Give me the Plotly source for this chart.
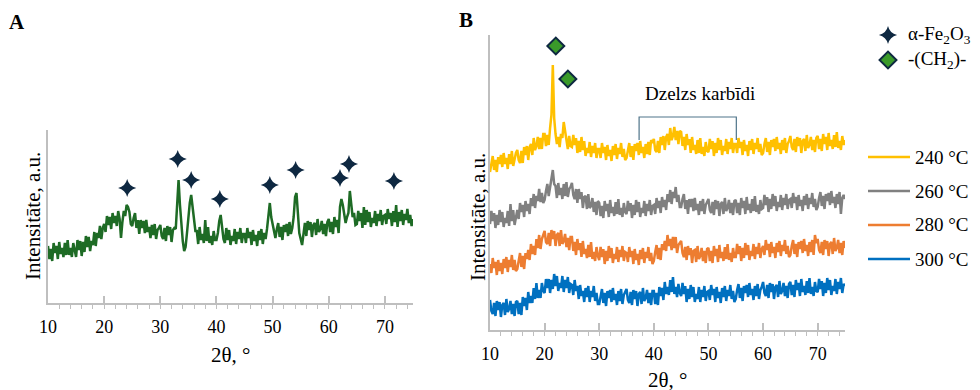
import numpy as np
import plotly.graph_objects as go

# ------------- data: intensity (arbitrary units), 2theta from 10 deg in 0.25 deg steps -------------
two_theta_start = 10.0
two_theta_step = 0.25

a_intensity = [
    57, 44, 54, 42, 60, 50, 57, 44, 61, 49, 55, 46, 60, 48, 63, 48, 55, 46, 60, 51,
    46, 63, 53, 62, 47, 61, 51, 67, 56, 66, 52, 62, 58, 71, 57, 70, 65, 77, 64, 75,
    79, 71, 87, 78, 86, 74, 90, 80, 87, 77, 92, 84, 65, 81, 92, 87, 98, 96, 91, 79,
    77, 85, 90, 75, 83, 69, 83, 75, 82, 70, 83, 71, 76, 65, 78, 68, 79, 64, 73, 75,
    78, 67, 64, 75, 62, 77, 68, 76, 61, 73, 75, 74, 100, 123, 98, 76, 62, 52, 56, 70,
    86, 100, 108, 95, 80, 72, 72, 59, 76, 63, 69, 60, 83, 62, 76, 60, 67, 58, 72, 63,
    63, 70, 82, 88, 76, 64, 60, 75, 63, 73, 58, 67, 62, 74, 59, 71, 64, 75, 60, 69,
    69, 60, 75, 65, 71, 58, 73, 62, 68, 57, 72, 63, 74, 59, 70, 64, 74, 90, 100, 86,
    78, 70, 65, 74, 80, 66, 76, 63, 78, 71, 79, 67, 81, 69, 75, 86, 106, 110, 86, 70,
    64, 58, 69, 80, 67, 82, 73, 81, 66, 78, 80, 68, 84, 71, 74, 82, 69, 79, 67, 81,
    84, 71, 81, 69, 86, 76, 83, 70, 96, 104, 98, 88, 80, 86, 90, 112, 100, 86, 90, 78,
    79, 92, 82, 90, 75, 96, 78, 93, 81, 91, 76, 85, 80, 92, 77, 89, 82, 93, 78, 87,
    88, 79, 94, 84, 90, 77, 92, 81, 98, 76, 91, 82, 93, 78, 89, 83, 94, 80, 88, 77,
    84,
]

b_240 = [
    158, 167, 174, 160, 170, 158, 173, 166, 175, 163, 177, 166, 172, 161, 176, 166, 179, 164, 173, 177,
    180, 170, 167, 179, 167, 183, 175, 184, 170, 183, 186, 175, 192, 180, 184, 193, 181, 192, 181, 196,
    196, 184, 195, 185, 202, 215, 265, 212, 196, 186, 193, 183, 196, 192, 208, 200, 190, 181, 194, 184,
    183, 195, 185, 192, 177, 189, 178, 193, 180, 189, 174, 182, 177, 188, 173, 184, 177, 187, 172, 181,
    181, 172, 187, 177, 183, 170, 185, 174, 180, 169, 184, 175, 186, 171, 182, 176, 187, 173, 181, 170,
    172, 181, 187, 173, 184, 170, 186, 179, 187, 175, 189, 177, 183, 172, 186, 176, 188, 175, 190, 187,
    191, 180, 178, 189, 177, 193, 185, 194, 180, 193, 196, 185, 202, 190, 194, 203, 190, 199, 186, 199,
    198, 184, 193, 180, 196, 185, 191, 177, 193, 180, 185, 176, 190, 177, 192, 176, 183, 174, 188, 179,
    178, 191, 181, 189, 174, 187, 177, 192, 180, 190, 175, 184, 179, 191, 176, 188, 181, 192, 177, 186,
    186, 177, 192, 182, 188, 175, 190, 179, 185, 174, 189, 180, 191, 176, 187, 181, 192, 178, 186, 175,
    177, 186, 192, 178, 188, 175, 190, 183, 191, 179, 193, 181, 187, 176, 190, 180, 192, 177, 186, 189,
    194, 183, 180, 191, 178, 193, 184, 192, 177, 189, 191, 179, 195, 182, 185, 193, 180, 190, 178, 192,
    194, 181, 191, 179, 196, 186, 193, 180, 197, 184, 190, 181, 195, 183, 198, 182, 189, 180, 194, 185,
    190,
]

b_260 = [
    106, 119, 109, 117, 102, 115, 105, 120, 108, 118, 103, 112, 107, 119, 104, 126, 109, 120, 105, 114,
    120, 111, 127, 118, 125, 113, 129, 119, 126, 116, 132, 124, 136, 122, 134, 129, 141, 128, 137, 127,
    130, 139, 146, 134, 143, 148, 160, 146, 144, 132, 147, 135, 142, 131, 146, 134, 148, 133, 141, 143,
    147, 135, 131, 141, 127, 141, 131, 138, 122, 133, 134, 121, 136, 122, 124, 132, 118, 128, 115, 129,
    127, 114, 124, 112, 129, 119, 126, 113, 130, 117, 123, 114, 128, 116, 131, 115, 122, 113, 127, 118,
    116, 129, 119, 127, 112, 125, 115, 130, 118, 128, 113, 122, 117, 129, 114, 126, 119, 130, 115, 124,
    125, 116, 132, 122, 129, 117, 133, 123, 130, 120, 136, 128, 140, 126, 138, 132, 143, 128, 135, 123,
    123, 131, 136, 121, 130, 116, 131, 123, 131, 119, 132, 120, 126, 115, 129, 119, 131, 116, 125, 128,
    131, 120, 117, 128, 115, 130, 121, 129, 114, 126, 128, 116, 132, 119, 122, 130, 117, 127, 115, 129,
    130, 117, 127, 115, 132, 122, 129, 116, 133, 120, 126, 117, 131, 119, 134, 118, 125, 116, 130, 121,
    122, 135, 125, 133, 118, 131, 121, 136, 124, 134, 119, 128, 123, 135, 120, 132, 125, 136, 121, 130,
    131, 122, 137, 127, 133, 120, 135, 124, 130, 119, 134, 125, 136, 121, 132, 126, 137, 123, 131, 120,
    123, 132, 138, 124, 134, 121, 136, 129, 137, 125, 139, 127, 133, 122, 136, 126, 138, 116, 132, 135,
    131,
]

b_280 = [
    66, 57, 72, 62, 68, 55, 70, 59, 67, 56, 71, 62, 73, 58, 70, 63, 75, 60, 70, 59,
    61, 70, 77, 63, 74, 61, 77, 71, 80, 70, 86, 76, 84, 75, 91, 82, 95, 81, 91, 95,
    99, 88, 86, 97, 84, 100, 91, 99, 84, 95, 97, 84, 100, 86, 89, 96, 83, 92, 80, 93,
    93, 79, 88, 75, 91, 80, 87, 73, 89, 76, 81, 72, 85, 73, 88, 71, 78, 69, 83, 74,
    70, 83, 73, 81, 66, 79, 69, 84, 72, 82, 67, 76, 71, 83, 68, 80, 73, 84, 69, 78,
    77, 68, 83, 73, 79, 66, 81, 70, 76, 65, 80, 71, 82, 67, 78, 72, 83, 69, 77, 66,
    69, 78, 85, 71, 82, 70, 86, 80, 89, 79, 95, 84, 91, 80, 93, 82, 93, 77, 85, 87,
    89, 77, 73, 83, 70, 84, 75, 82, 67, 79, 80, 68, 84, 71, 74, 82, 69, 79, 67, 81,
    82, 69, 79, 67, 84, 74, 81, 68, 85, 72, 78, 69, 83, 71, 86, 70, 77, 68, 82, 73,
    73, 86, 76, 84, 69, 82, 72, 87, 75, 85, 70, 79, 74, 86, 71, 83, 76, 87, 72, 81,
    84, 75, 90, 80, 86, 73, 88, 77, 83, 72, 87, 78, 89, 74, 85, 79, 90, 76, 84, 73,
    75, 84, 90, 76, 86, 73, 88, 81, 89, 77, 91, 79, 85, 74, 88, 78, 90, 75, 95, 87,
    91, 80, 77, 88, 75, 90, 81, 89, 74, 86, 88, 76, 92, 79, 82, 90, 77, 87, 75, 89,
    82,
]

b_300 = [
    30, 19, 16, 27, 14, 29, 20, 28, 13, 25, 27, 15, 31, 18, 21, 29, 16, 26, 14, 28,
    29, 16, 27, 15, 33, 24, 32, 20, 38, 27, 34, 27, 42, 31, 47, 32, 40, 32, 47, 39,
    37, 51, 42, 51, 37, 50, 41, 56, 44, 54, 39, 47, 42, 54, 38, 50, 42, 53, 37, 46,
    45, 35, 50, 39, 44, 31, 45, 34, 39, 28, 42, 33, 44, 28, 39, 33, 44, 29, 37, 26,
    26, 35, 41, 27, 37, 24, 39, 32, 40, 28, 42, 30, 36, 25, 39, 29, 41, 26, 35, 38,
    41, 30, 27, 38, 25, 40, 31, 39, 24, 36, 38, 26, 42, 29, 32, 40, 27, 37, 25, 39,
    39, 26, 37, 25, 43, 34, 42, 30, 48, 36, 43, 35, 50, 38, 53, 36, 43, 33, 46, 37,
    34, 47, 36, 44, 28, 41, 31, 45, 33, 43, 28, 36, 31, 43, 28, 40, 33, 44, 29, 38,
    39, 30, 45, 35, 41, 28, 43, 32, 38, 27, 42, 33, 44, 29, 40, 34, 45, 31, 39, 28,
    31, 40, 46, 32, 42, 29, 44, 37, 45, 33, 47, 35, 41, 30, 44, 34, 46, 31, 40, 43,
    48, 37, 34, 45, 32, 47, 38, 46, 31, 43, 45, 33, 49, 36, 39, 47, 34, 44, 32, 46,
    48, 35, 45, 33, 50, 40, 47, 34, 51, 38, 44, 35, 49, 37, 52, 36, 43, 34, 48, 39,
    38, 51, 41, 49, 34, 47, 37, 52, 40, 50, 35, 44, 39, 51, 36, 48, 41, 52, 37, 46,
    44,
]

# peak markers
fe2o3_x = [24.1, 33.1, 35.5, 40.6, 49.5, 54.1, 62.0, 63.6, 71.6]
fe2o3_y = [115, 144, 123, 104, 118, 133, 125, 139, 122]
ch2_x = [22.05, 24.26]
ch2_y = [284, 251]

# carbide bracket (2theta from, to; intensity bottom, top)
carbide_x = [37.3, 55.1]
carbide_y = [190, 213]

b_series = [("240 °C", b_240, "#FFC000"), ("260 °C", b_260, "#808080"),
            ("280 °C", b_280, "#ED7D31"), ("300 °C", b_300, "#0070C0")]


def xs(n):
    return [two_theta_start + two_theta_step * i for i in range(n)]


FONT = "Liberation Serif, Times New Roman, serif"
W, H = 980, 390
STAR = "#0E2841"
DIA_FILL = "#3A9A2A"
LW = 2.5

fig = go.Figure()

fig.add_trace(go.Scatter(x=xs(len(a_intensity)), y=a_intensity, mode="lines",
                         line=dict(color="#1E6B25", width=LW), xaxis="x", yaxis="y",
                         showlegend=False))
fig.add_trace(go.Scatter(x=fe2o3_x, y=fe2o3_y, mode="markers",
                         marker=dict(symbol="star-diamond", size=13, color=STAR,
                                     line=dict(width=0)),
                         xaxis="x", yaxis="y", showlegend=False, cliponaxis=False))

for name, vals, col in b_series:
    fig.add_trace(go.Scatter(x=xs(len(vals)), y=vals, mode="lines", name=name,
                             line=dict(color=col, width=LW), xaxis="x2", yaxis="y2",
                             showlegend=False))
fig.add_trace(go.Scatter(x=ch2_x, y=ch2_y, mode="markers",
                         marker=dict(symbol="diamond", size=13, color=DIA_FILL,
                                     line=dict(width=2, color=STAR)),
                         xaxis="x2", yaxis="y2", showlegend=False, cliponaxis=False))

# bracket
fig.add_shape(type="path",
              path=f"M {carbide_x[0]},{carbide_y[0]} L {carbide_x[0]},{carbide_y[1]} "
                   f"L {carbide_x[1]},{carbide_y[1]} L {carbide_x[1]},{carbide_y[0]}",
              xref="x2", yref="y2", line=dict(color="#4F7489", width=1.2))


def label(px, py, text, size, angle=0, xanchor="center"):
    fig.add_annotation(x=px / W, y=1 - py / H, xref="paper", yref="paper", text=text,
                       showarrow=False, textangle=angle, xanchor=xanchor, yanchor="middle",
                       font=dict(family=FONT, size=size, color="#000"))


label(700, 93, "Dzelzs karbīdi", 19)

# legend, drawn on a pixel-space overlay axis
fig.add_trace(go.Scatter(x=[888], y=[35], mode="markers",
                         marker=dict(symbol="star-diamond", size=13, color=STAR),
                         xaxis="x3", yaxis="y3", showlegend=False))
fig.add_trace(go.Scatter(x=[888], y=[60], mode="markers",
                         marker=dict(symbol="diamond", size=13, color=DIA_FILL,
                                     line=dict(width=2, color=STAR)),
                         xaxis="x3", yaxis="y3", showlegend=False))
label(906, 35, "α-Fe<sub>2</sub>O<sub>3</sub>", 19, xanchor="left")
label(906, 60, "-(CH<sub>2</sub>)-", 19, xanchor="left")
for i, (name, vals, col) in enumerate(b_series):
    yy = 157 + 34 * i
    fig.add_shape(type="line", x0=868, x1=910, y0=yy, y1=yy, xref="x3", yref="y3",
                  line=dict(color=col, width=2.5))
    label(913, yy, name, 19, xanchor="left")

# titles
label(33, 216, "Intensitāte, a.u.", 21, angle=-90)
label(478, 217, "Intensitāte, a.u.", 21, angle=-90)
label(230, 355, "2θ, °", 21)
label(667, 380, "2θ, °", 21)
label(17, 22, "<b>A</b>", 21)
label(466, 20, "<b>B</b>", 21)

xcommon = dict(range=[10, 75], showline=True, linecolor="#BFBFBF", linewidth=1.5,
               tickmode="linear", tick0=10, dtick=10,
               ticks="inside", ticklen=7, tickcolor="#BFBFBF", tickwidth=1.5,
               minor=dict(dtick=2, ticks="outside", ticklen=4, tickcolor="#BFBFBF", tickwidth=1),
               showgrid=False, zeroline=False, automargin=False, ticklabelstandoff=7,
               tickfont=dict(family=FONT, size=18, color="#000"))
ycommon = dict(showline=True, linecolor="#BFBFBF", linewidth=1.5, showticklabels=False,
               ticks="", showgrid=False, zeroline=False, automargin=False)

fig.update_layout(
    width=W, height=H, margin=dict(l=0, r=0, t=0, b=0),
    paper_bgcolor="white", plot_bgcolor="rgba(0,0,0,0)", showlegend=False,
    xaxis=dict(domain=[48 / W, 413 / W], anchor="y", **xcommon),
    yaxis=dict(domain=[1 - 303 / H, 1 - 130 / H], range=[0, 173], anchor="x", **ycommon),
    xaxis2=dict(domain=[490 / W, 845 / W], anchor="y2", **xcommon),
    yaxis2=dict(domain=[1 - 330 / H, 1 - 35 / H], range=[0, 295], anchor="x2", **ycommon),
    xaxis3=dict(domain=[0, 1], range=[0, W], visible=False, anchor="y3"),
    yaxis3=dict(domain=[0, 1], range=[H, 0], visible=False, anchor="x3"),
)

fig.write_html("out.html")
